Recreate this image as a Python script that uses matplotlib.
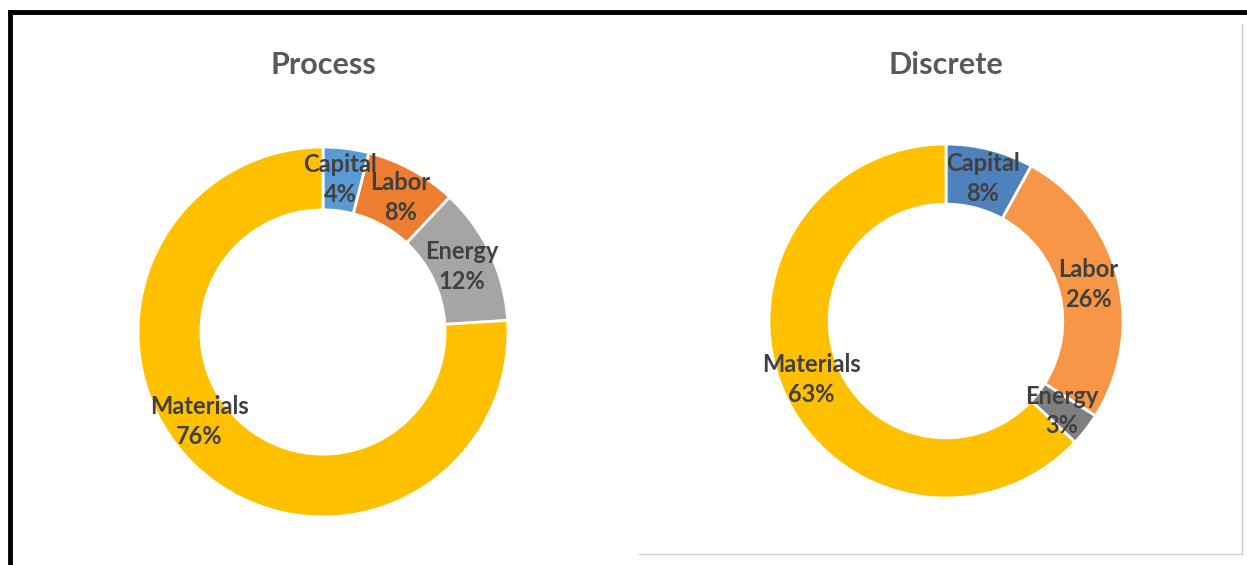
import numpy as np
import matplotlib.pyplot as plt
from matplotlib.lines import Line2D

categories = ['Capital', 'Labor', 'Energy', 'Materials']
process_vals = [4, 8, 12, 76]
discrete_vals = [8, 26, 3, 63]
process_colors = ['#5B9BD5', '#ED7D31', '#A5A5A5', '#FFC000']
discrete_colors = ['#4F81BD', '#F79646', '#7F7F7F', '#FFC000']

W, H = 1247, 565
fig = plt.figure(figsize=(W / 100, H / 100), dpi=100)
plt.rcParams['font.family'] = ['Lato', 'DejaVu Sans']


def px_axes(x0, y_top, size):
    # pixel box (top-left origin) -> figure fraction
    return fig.add_axes([x0 / W, 1 - (y_top + size) / H, size / W, size / H])


def donut(ax, vals, colors, title, title_xy, nudge=None):
    nudge = nudge or {}
    ring = 0.34
    wedges, _ = ax.pie(vals, colors=colors, startangle=90, counterclock=False,
                       radius=1, wedgeprops=dict(width=ring, edgecolor='white', linewidth=2))
    ax.set_xlim(-1, 1)
    ax.set_ylim(-1, 1)
    ax.set_aspect('equal')
    ax.axis('off')
    r = 1 - ring / 2
    for w, cat, v in zip(wedges, categories, vals):
        ang = np.deg2rad((w.theta1 + w.theta2) / 2)
        dx, dy = nudge.get(cat, (0, 0))
        ax.text(r * np.cos(ang) + dx, r * np.sin(ang) + dy, f'{cat}\n{v}%',
                ha='center', va='center', fontsize=17, fontweight='bold',
                color='#404040', linespacing=1.35)
    fig.text(title_xy[0] / W, 1 - title_xy[1] / H, title, ha='center', va='center',
             fontsize=22, fontweight='bold', color='#595959')


ax1 = px_axes(138, 147, 370)
donut(ax1, process_vals, process_colors, 'Process', (323, 65),
      nudge={'Materials': (-0.1, 0.12), 'Capital': (-0.01, 0), 'Labor': (0.02, 0)})

ax2 = px_axes(769, 144, 354)
donut(ax2, discrete_vals, discrete_colors, 'Discrete', (946, 65))


def fline(xs, ys, **kw):
    fig.add_artist(Line2D([x / W for x in xs], [1 - y / H for y in ys],
                          transform=fig.transFigure, **kw))


# outer black frame (top and left)
fline([10, 1247], [12, 12], color='black', linewidth=3.5)
fline([10, 10], [12, 565], color='black', linewidth=3.5)
# light gray frame of the right panel
fline([639, 1242], [554, 554], color='#D0D0D0', linewidth=1)
fline([1242, 1242], [24, 554], color='#D0D0D0', linewidth=1)

fig.savefig('out.png', dpi=100)
